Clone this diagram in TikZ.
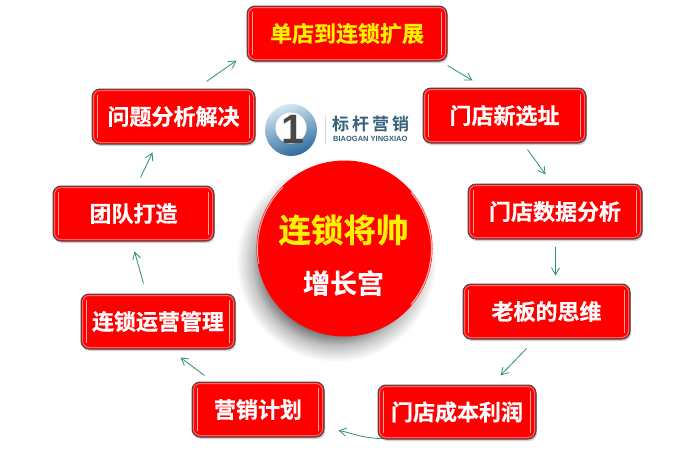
\documentclass[tikz,border=0pt]{standalone}
\usepackage{fontspec}
\setmainfont{Liberation Sans}
\newfontfamily\cjk{Noto Sans CJK SC Bold}[FakeBold=0.5]
\newfontfamily\cjklogo{Noto Sans CJK SC Bold}
\usetikzlibrary{arrows.meta,calc}
\definecolor{conn}{HTML}{2E9070}
\definecolor{logotext}{HTML}{35607A}
\definecolor{logotop}{HTML}{D5E8F2}
\definecolor{logobot}{HTML}{2C6A9E}
\pgfdeclareradialshading{hubshadow}{\pgfpoint{0bp}{0bp}}{color(0bp)=(black!62); color(17bp)=(black!62); color(21bp)=(black!24); color(25bp)=(white); color(50bp)=(white)}
\tikzset{
  box/.style={draw=black!72,line width=1pt,fill=red,rounded corners=8pt,inner sep=0pt,font=\cjk\fontsize{22}{22}\selectfont},
  rim/.style={draw=red!62!white,line width=1pt,rounded corners=6.5pt},
  glint/.style={draw=white,opacity=.65,line width=1.3pt,line cap=round},
  link/.style={draw=conn,line width=.8pt,-{Straight Barb[length=7pt,width=8pt]}},
  boxshadow/.style={fill=black!18,rounded corners=8pt,draw=none},
}
% name, x0, y0, x1, y1, text colour, text
\newcommand{\rbox}[7]{%
  \fill[boxshadow] (#2+1,#3+2) rectangle (#4+1,#5+2);
  \node[box,text=#6,minimum width=#4pt-#2pt,minimum height=#5pt-#3pt] (#1) at ({(#2+#4)/2},{(#3+#5)/2}) {#7};
  \draw[rim] (#2+1.5,#3+1.5) rectangle (#4-1.5,#5-1.5);
  \draw[glint] ($(#1.north west)+(6,7)$) -- ($(#1.south west)+(6,-7)$);
  \draw[glint] ($(#1.north east)+(-6,7)$) -- ($(#1.south east)+(-6,-7)$);
}
\begin{document}
\begin{tikzpicture}[x=1pt,y=-1pt]
\useasboundingbox (0,0) rectangle (680,455);
\fill[white] (0,0) rectangle (680,455);
% centre shadow
\shade[shading=hubshadow] (336,262) circle (100);
\node[circle,fill=red,minimum size=176pt,inner sep=0pt] (hub) at (344.5,248.5) {};
\draw[red!35!white,line width=1.2pt] (344.5,248.5) ++(-40:87) arc (-40:40:87);
\draw[red!35!white,line width=1pt] (344.5,248.5) ++(170:87) arc (170:225:87);
\node[text=yellow,font=\cjk\fontsize{32.5}{32.5}\selectfont,inner sep=0pt] (hubt) at (343.5,230) {连锁将帅};
\node[text=white,font=\cjk\fontsize{27}{27}\selectfont,inner sep=0pt] (hubs) at (343.5,283) {增长宫};

\rbox{n1}{247}{6}{447}{61}{yellow}{单店到连锁扩展}
\rbox{n2}{423}{88}{586}{143}{white}{门店新选址}
\rbox{n3}{468}{184}{642}{239}{white}{门店数据分析}
\rbox{n4}{463}{284}{630}{339}{white}{老板的思维}
\rbox{n5}{378}{385}{536}{439}{white}{门店成本利润}
\rbox{n6}{192}{382}{324}{437}{white}{营销计划}
\rbox{n7}{81}{294}{235}{349}{white}{连锁运营管理}
\rbox{n8}{53}{186}{214}{241}{white}{团队打造}
\rbox{n9}{92}{89}{255}{144}{white}{问题分析解决}

\draw[link] ($(n1.south east)+(0,4)$) -- ($(n2.north west)+(50,-7)$);
\draw[link] ($(n2.south east)+(-59,6)$) -- ($(n3.north west)+(78,-9)$);
\draw[link] ($(n3.south west)+(88,7)$) -- ($(n4.north west)+(93,-8)$);
\draw[link] ($(n4.south west)+(64,9)$) -- ($(n5.north east)+(-36,-9)$);
\draw[link] ($(n5.south west)+(5,-1)$) .. controls ($(n5.south west)+(-15,-1)$) and ($(n6.south east)+(30,-4)$) .. ($(n6.south east)+(14,-7)$);
\draw[link] ($(n6.north west)+(13,-6)$) -- ($(n7.south west)+(100,8)$);
\draw[link] ($(n7.north west)+(63,-10)$) -- ($(n8.south west)+(82,10)$);
\draw[link] ($(n8.north west)+(88,-8)$) -- ($(n9.south west)+(61,8)$);
\draw[link] ($(n9.north east)+(-49,-7)$) -- ($(n1.south west)+(-10,-1)$);

% logo
\shade[top color=logotop,bottom color=logobot,shading angle=20] (291,130) circle (26);
\fill[white] (291,128) circle (15.5);
\node[font=\bfseries\fontsize{41}{41}\selectfont,text=black!72,inner sep=0pt] (one) at (293,129) {1};
\draw[black!15,line width=.6pt] (325,116) -- (325,144);
\node[font=\cjklogo\fontsize{17}{17}\selectfont,text=logotext,inner sep=0pt,anchor=west] (lt) at (332,124) {标\hspace{3pt}杆\hspace{3pt}营\hspace{3pt}销};
\node[font=\bfseries\fontsize{7.5}{7.5}\selectfont,text=logotext,inner sep=0pt,anchor=west] (le) at (333,139) {BIAOGAN YINGXIAO};
\end{tikzpicture}
\end{document}
